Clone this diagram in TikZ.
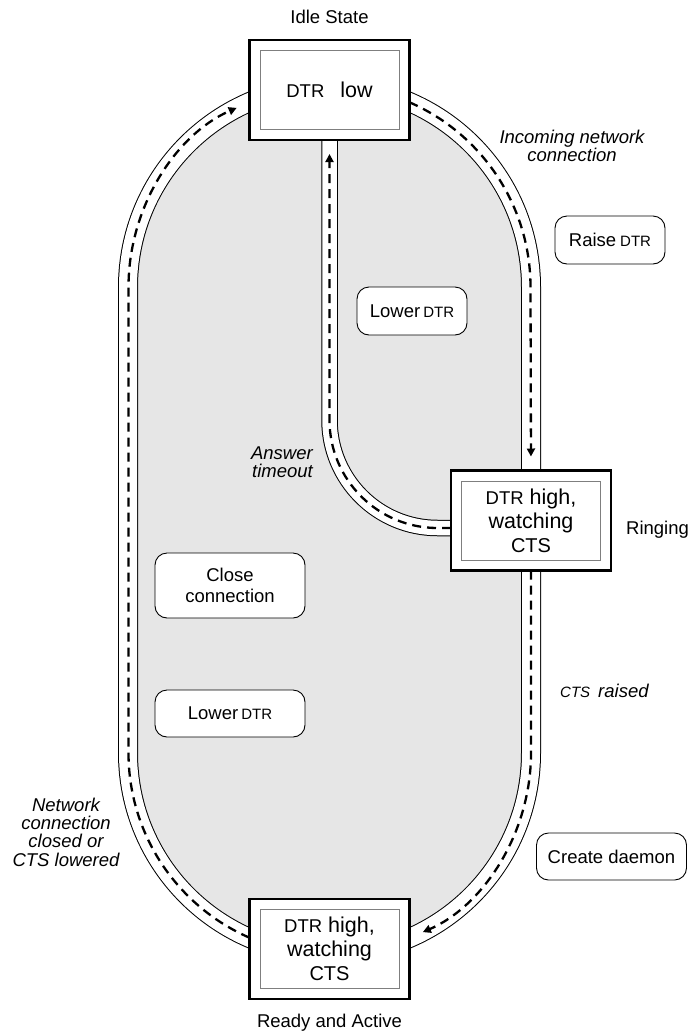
\documentclass[tikz,border=0pt]{standalone}
\usepackage{fontspec}
\setmainfont{Liberation Sans}
\usetikzlibrary{arrows.meta,positioning}
\definecolor{Shade}{HTML}{E6E6E6}
\definecolor{Rule}{HTML}{7F7F7F}
\newcommand{\sigbox}[1]{{\fontsize{18.5}{24}\selectfont #1}}
\newcommand{\sigtag}[1]{{\fontsize{15}{18}\selectfont #1}}
\tikzset{state/.style={draw,line width=2.6pt,fill=white,minimum width=160pt,minimum height=100pt,outer sep=0pt,align=center,inner sep=0pt,font=\fontsize{21.5}{24}\selectfont},inset/.style={draw=Rule,line width=1pt},track/.style={line width=1pt,double=white,double distance=18pt},lane/.style={track,double distance=14.5pt},flow/.style={line width=2.3pt,dash pattern=on 9pt off 6pt,-{Triangle[length=8pt,width=8pt]},shorten >=14pt},action/.style={draw,rounded corners=12pt,fill=white,line width=0.9pt,align=center,inner sep=0pt,minimum width=150pt,minimum height=47pt,font=\fontsize{18.5}{21}\selectfont},small/.style={minimum width=110pt,minimum height=48pt},event/.style={align=center,inner sep=0pt,font=\fontsize{18.5}{18.4}\selectfont\itshape},caption/.style={inner sep=0pt,font=\fontsize{18.5}{21}\selectfont}}
\begin{document}
\begin{tikzpicture}[x=1pt,y=-1pt]
  \useasboundingbox (0,0) rectangle (688,1031);
  % racetrack and the answer timeout lane
  \draw[track,fill=Shade] (128,287) arc[start angle=180,end angle=360,radius=201.5] -- (531,753)
    arc[start angle=0,end angle=180,radius=201.5] -- cycle;
  \draw[lane] (329.5,120) -- (329.5,420) arc[start angle=180,end angle=90,radius=108] -- (460,528);
  % states
  \node[state] (idle) at (329.5,90) {\sigbox{DTR}\hspace{16pt}low};
  \node[state] (ringing) at (531,520.5) {\sigbox{DTR} high,\\watching\\{\fontsize{20}{24}\selectfont CTS}};
  \node[state] (ready) at (329.5,949) {\sigbox{DTR} high,\\watching\\{\fontsize{20}{24}\selectfont CTS}};
  \foreach \s in {idle,ringing,ready}
    \draw[inset] ([shift={(10.5,10.5)}]\s.north west) rectangle ([shift={(-10.5,-10.5)}]\s.south east);
  \node[caption,anchor=base] (idlecap) at (329.5,23.3) {Idle State};
  \node[caption,anchor=base west] (ringcap) at (626,534) {Ringing};
  \node[caption,anchor=base] (readycap) at (329.5,1027) {Ready and Active};
  % transitions
  \draw[flow] ([yshift=-12.3pt]idle.east) arc[start angle=293.55,end angle=360,radius=201.5] -- (ringing.north);
  \draw[flow] (ringing.south) -- ++(0,182.5) arc[start angle=0,end angle=66.45,radius=201.5];
  \draw[flow] ([yshift=11.3pt]ready.west) arc[start angle=113.55,end angle=180,radius=201.5] -- ++(0,-466)
    arc[start angle=180,end angle=246.45,radius=201.5];
  \draw[flow] ([yshift=-7.5pt]ringing.west) -- (437.5,528) arc[start angle=90,end angle=180,radius=108] -- (idle.south);
  % events
  \node[event] (incoming) at (572,146) {Incoming network\\connection};
  \node[event,align=right,anchor=east] (timeout) at (313,462) {Answer\\timeout};
  \node[event,anchor=base west] (ctsup) at (560,697) {\sigtag{CTS}\hspace{8pt}raised};
  \node[event] (netdown) at (66,832) {Network\\connection\\closed or\\CTS lowered};
  % actions
  \node[action,small] (raise) at (610,240) {Raise\hspace{4pt}\sigtag{DTR}};
  \node[action,small] (lowerup) at (412,311) {Lower\hspace{3pt}\sigtag{DTR}};
  \node[action,minimum height=65pt] (close) at (230,585.5) {Close\\connection};
  \node[action] (lowerdown) at (230,713.5) {Lower\hspace{3pt}\sigtag{DTR}};
  \node[action] (daemon) at (611.5,856.5) {Create daemon};
\end{tikzpicture}
\end{document}
